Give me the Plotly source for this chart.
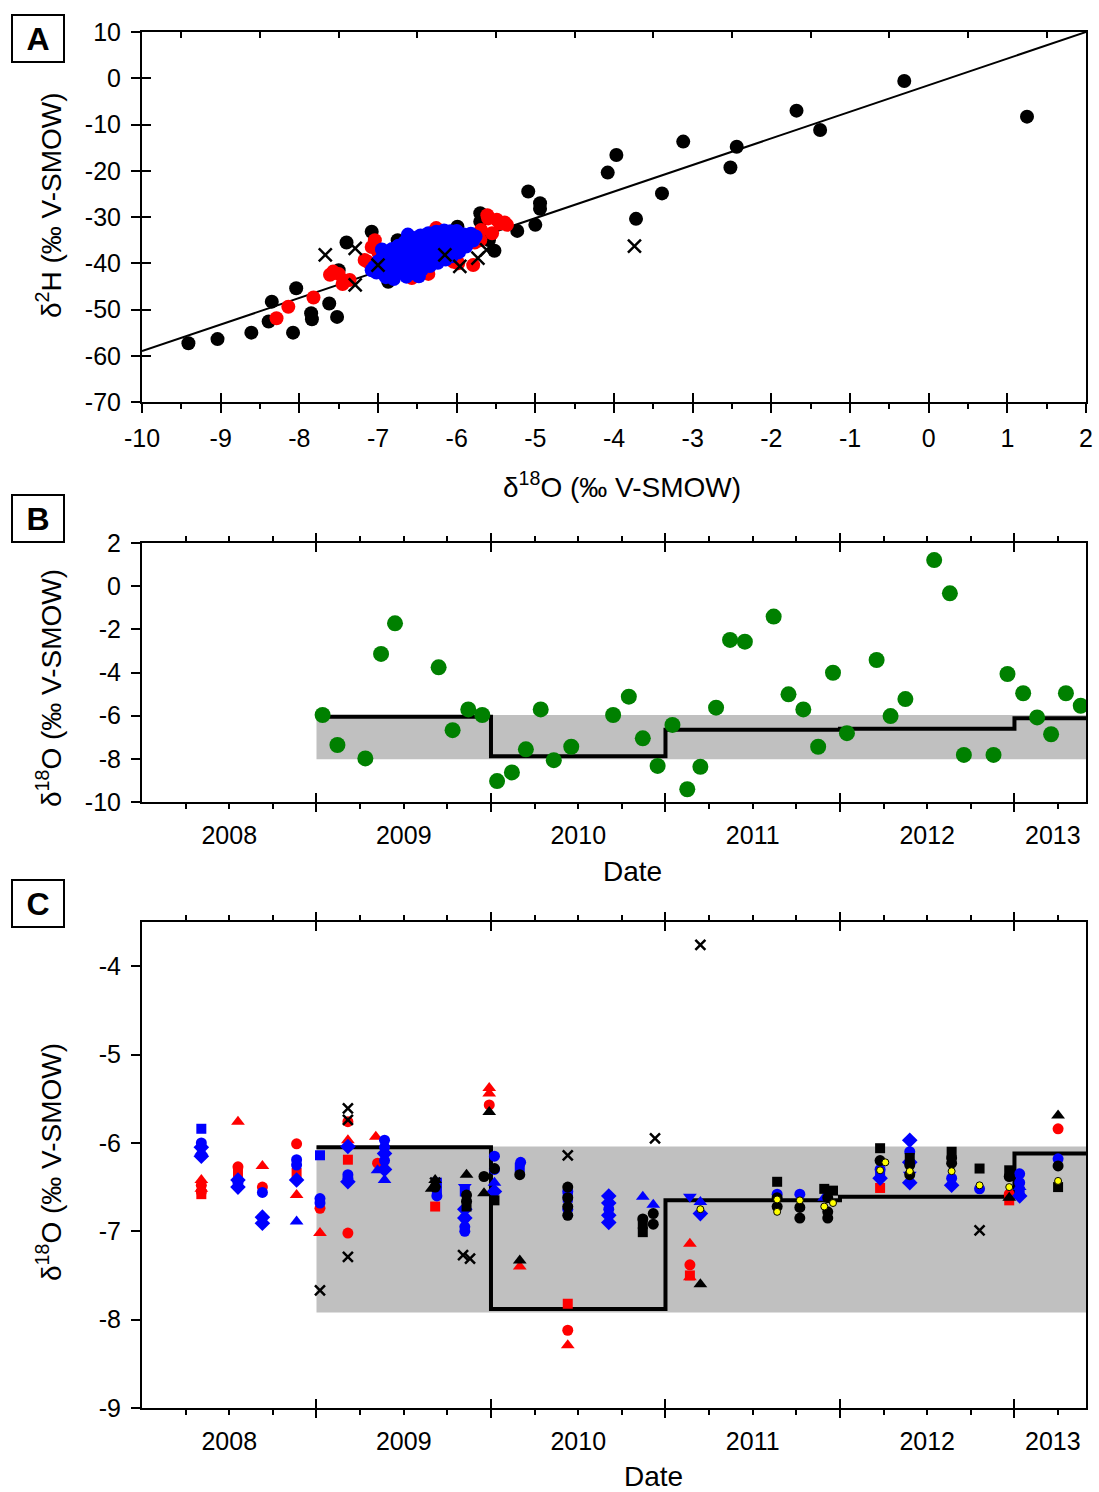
import plotly.graph_objects as go

# ---------------- Panel A data (d18O vs d2H) ----------------
a_black_x = [-9.41, -9.04, -8.61, -8.39, -8.35, -8.08, -8.04, -7.85, -7.84, -7.62, -7.52, -7.40, -7.08,
             -7.50, -6.87, -6.75, -5.99, -5.70, -5.70, -5.59, -5.52, -5.64, -5.23, -5.09, -4.94, -4.94, -5.00,
             -4.08, -3.97, -3.72, -3.39, -3.12, -2.52, -2.44, -1.68, -1.38, -0.31, 1.25]
a_black_y = [-57.3, -56.4, -55.0, -52.6, -48.3, -55.0, -45.4, -50.8, -52.1, -48.7, -51.6, -35.5, -33.2,
             -41.5, -44.0, -35.0, -32.1, -29.2, -31.0, -35.0, -37.3, -34.3, -33.0, -24.5, -27.0, -28.2, -31.7,
             -20.4, -16.6, -30.4, -24.9, -13.7, -19.3, -14.8, -7.0, -11.2, -0.6, -8.3]

a_red_x = [-8.29, -8.14, -7.82, -7.61, -7.57, -7.50, -7.45, -7.43, -7.36, -7.17, -7.13, -7.08, -7.04, -7.00,
           -6.64, -6.57, -6.36, -6.26, -6.16, -6.04, -6.00, -5.98, -5.79, -5.77, -5.70, -5.69, -5.61, -5.60,
           -5.55, -5.49, -5.45, -5.39, -5.36]
a_red_y = [-51.9, -49.4, -47.4, -42.5, -41.8, -42.3, -44.5, -43.8, -43.6, -39.3, -39.7, -36.5, -35.0, -37.5,
           -42.5, -43.2, -42.3, -32.4, -33.4, -39.7, -33.2, -40.0, -40.4, -35.5, -35.0, -32.8, -29.6, -30.3,
           -33.5, -30.6, -31.4, -31.2, -31.7]

a_blue_x = [-7.05, -7.02, -7.00, -6.98, -6.95, -6.93, -6.90, -6.88, -6.86, -6.84, -6.82, -6.80, -6.78, -6.76,
            -6.74, -6.72, -6.70, -6.68, -6.66, -6.64, -6.62, -6.60, -6.58, -6.56, -6.54, -6.52, -6.50, -6.48,
            -6.46, -6.44, -6.42, -6.40, -6.38, -6.36, -6.34, -6.32, -6.30, -6.28, -6.26, -6.24, -6.22, -6.20,
            -6.18, -6.16, -6.14, -6.12, -6.10, -6.08, -6.06, -6.04, -6.02, -6.00, -5.97, -5.94, -5.91, -5.88,
            -5.85, -5.82, -5.79, -5.76, -6.90, -6.80, -6.70, -6.60, -6.50, -6.40, -6.30, -6.20, -6.10, -6.00,
            -6.85, -6.75, -6.65, -6.55, -6.45, -6.35, -6.25, -6.15, -6.05, -5.95, -7.08, -6.95, -6.62, -6.48]
a_blue_y = [-40.8, -42.0, -39.6, -41.2, -38.9, -42.3, -40.1, -37.8, -41.6, -39.2, -36.9, -42.6, -40.3, -38.1,
            -36.2, -41.8, -39.5, -37.3, -35.4, -42.9, -40.7, -38.4, -36.1, -34.5, -42.2, -39.9, -37.6, -35.3,
            -34.0, -41.3, -38.8, -36.5, -34.4, -33.5, -40.6, -38.0, -35.8, -33.9, -33.2, -39.9, -37.4, -35.2,
            -33.6, -32.9, -39.2, -36.8, -34.6, -33.1, -38.5, -36.2, -34.1, -33.0, -37.6, -35.6, -33.8, -36.4,
            -34.6, -33.6, -35.1, -34.2, -43.0, -43.4, -41.0, -40.0, -41.0, -40.2, -39.8, -38.8, -37.8, -36.2,
            -38.2, -36.4, -39.8, -39.0, -35.6, -37.5, -36.8, -36.0, -35.8, -35.2, -41.5, -37.0, -33.8, -42.8]

a_cross_x = [-7.67, -7.29, -7.29, -7.00, -6.15, -5.96, -5.73, -5.62, -3.74]
a_cross_y = [-38.2, -36.8, -44.7, -40.4, -38.2, -40.7, -38.9, -37.1, -36.3]

lmwl_x = [-10, 2]
lmwl_y = [-59, 10]

# ---------------- Panel B data (precipitation d18O over time) ----------------
b_date = [2009.035, 2009.12, 2009.28, 2009.37, 2009.45, 2009.70, 2009.78, 2009.87, 2009.95, 2010.035,
          2010.12, 2010.20, 2010.285, 2010.36, 2010.46, 2010.70, 2010.79, 2010.87, 2010.955, 2011.04,
          2011.125, 2011.20, 2011.29, 2011.37, 2011.455, 2011.62, 2011.705, 2011.79, 2011.875, 2011.96,
          2012.04, 2012.21, 2012.29, 2012.375, 2012.54, 2012.63, 2012.71, 2012.88, 2012.96, 2013.05,
          2013.13, 2013.21, 2013.295, 2013.38]
b_d18o = [-5.97, -7.36, -7.98, -3.14, -1.72, -3.76, -6.67, -5.71, -5.97, -9.03,
          -8.63, -7.56, -5.71, -8.06, -7.44, -5.97, -5.12, -7.05, -8.33, -6.43,
          -9.41, -8.37, -5.63, -2.49, -2.57, -1.41, -5.01, -5.71, -7.44, -4.01,
          -6.81, -3.42, -6.02, -5.23, 1.21, -0.33, -7.82, -7.82, -4.07, -4.96,
          -6.08, -6.86, -4.96, -5.54]

step_x = [2009.0, 2010.0, 2011.0, 2012.0, 2013.0, 2013.41]
step_y = [-6.05, -7.88, -6.65, -6.61, -6.12, -6.12]
band_b = [-8.02, -5.97]
band_c = [-7.92, -6.04]
band_x = [2009.0, 2013.41]

# ---------------- Panel C data (spring d18O over time) ----------------
c_red_circle_x = [2008.34, 2008.34, 2008.55, 2008.69, 2008.886, 2009.02, 2009.18, 2009.18, 2009.35, 2009.99,
                  2010.44, 2011.14, 2012.97, 2013.25]
c_red_circle_y = [-6.48, -6.55, -6.27, -6.50, -6.01, -6.74, -5.76, -7.02, -6.23, -5.57,
                  -8.12, -7.38, -6.58, -5.84]
c_red_square_x = [2008.34, 2008.55, 2008.886, 2009.18, 2009.68, 2010.44, 2011.14, 2012.23, 2012.97]
c_red_square_y = [-6.58, -6.33, -6.34, -6.19, -6.72, -7.82, -7.50, -6.51, -6.65]
c_red_tri_x = [2008.34, 2008.34, 2008.55, 2008.69, 2008.886, 2009.02, 2009.18, 2009.34, 2009.99, 2009.99,
               2010.165, 2010.44, 2011.14, 2011.14]
c_red_tri_y = [-6.42, -6.52, -5.76, -6.26, -6.59, -7.02, -5.97, -5.93, -5.38, -5.44,
               -7.40, -8.29, -7.14, -7.52]

c_blue_circle_x = [2008.34, 2008.55, 2008.69, 2008.886, 2008.886, 2009.02, 2009.02, 2009.18, 2009.18, 2009.39,
                   2009.39, 2009.39, 2009.69, 2009.85, 2009.85, 2009.85, 2010.02, 2010.02, 2010.17, 2010.44,
                   2010.44, 2010.675, 2011.64, 2011.77, 2012.23, 2012.40, 2012.64, 2012.80, 2013.03, 2013.03,
                   2013.25]
c_blue_circle_y = [-6.00, -6.45, -6.56, -6.19, -6.25, -6.63, -6.68, -6.40, -6.36, -5.97,
                   -6.05, -6.20, -6.60, -6.85, -6.95, -7.00, -6.15, -6.30, -6.22, -6.55,
                   -6.75, -6.75, -6.58, -6.58, -6.30, -6.10, -6.40, -6.52, -6.35, -6.45,
                   -6.18]
c_blue_square_x = [2008.34, 2009.02, 2009.69, 2009.69, 2009.85, 2010.165, 2010.44, 2012.23, 2013.03]
c_blue_square_y = [-5.84, -6.14, -6.45, -6.55, -6.55, -6.28, -6.62, -6.35, -6.55]
c_blue_tri_x = [2008.34, 2008.886, 2009.35, 2009.39, 2010.02, 2010.87, 2010.93, 2011.20, 2011.91, 2013.03]
c_blue_tri_y = [-6.10, -6.89, -6.31, -6.42, -6.45, -6.61, -6.70, -6.67, -6.62, -6.50]
c_blue_diamond_x = [2008.34, 2008.34, 2008.55, 2008.55, 2008.69, 2008.69, 2008.886, 2009.18, 2009.18, 2009.39,
                    2009.39, 2009.85, 2009.85, 2010.02, 2010.675, 2010.675, 2010.675, 2010.675, 2011.20, 2012.23,
                    2012.40, 2012.40, 2012.40, 2012.64, 2013.03]
c_blue_diamond_y = [-6.05, -6.15, -6.42, -6.50, -6.84, -6.91, -6.42, -6.04, -6.44, -6.12,
                    -6.30, -6.75, -6.85, -6.55, -6.60, -6.68, -6.82, -6.90, -6.80, -6.40,
                    -5.97, -6.22, -6.45, -6.48, -6.60]
c_blue_tridown_x = [2011.14, 2009.85, 2012.40]
c_blue_tridown_y = [-6.61, -6.50, -6.36]

c_black_circle_x = [2009.68, 2009.96, 2010.02, 2010.165, 2010.44, 2010.44, 2010.44, 2010.44, 2010.87, 2010.93,
                    2010.93, 2011.64, 2011.64, 2011.77, 2011.77, 2011.93, 2011.93, 2011.93, 2012.23, 2012.40,
                    2012.40, 2012.64, 2012.64, 2012.97, 2013.25, 2009.86, 2009.86]
c_black_circle_y = [-6.50, -6.38, -6.29, -6.36, -6.50, -6.62, -6.72, -6.82, -6.86, -6.80,
                    -6.92, -6.62, -6.72, -6.73, -6.85, -6.62, -6.78, -6.85, -6.20, -6.25,
                    -6.36, -6.17, -6.23, -6.38, -6.26, -6.59, -6.66]
c_black_square_x = [2009.86, 2010.02, 2010.87, 2010.87, 2011.64, 2011.91, 2011.96, 2012.23, 2012.40, 2012.64,
                    2012.80, 2012.97, 2013.25]
c_black_square_y = [-6.72, -6.65, -7.01, -6.92, -6.44, -6.52, -6.54, -6.06, -6.17, -6.10,
                    -6.29, -6.31, -6.50]
c_black_tri_x = [2009.68, 2009.86, 2009.99, 2009.96, 2010.165, 2011.20, 2012.97, 2013.25, 2009.66]
c_black_tri_y = [-6.42, -6.36, -5.65, -6.57, -7.33, -7.60, -6.62, -5.69, -6.52]
c_black_x_x = [2009.02, 2009.18, 2009.18, 2009.18, 2009.68, 2009.84, 2009.88, 2010.44, 2010.94, 2011.20, 2012.80]
c_black_x_y = [-7.67, -5.61, -5.74, -7.29, -6.45, -7.27, -7.31, -6.14, -5.95, -3.76, -6.99]
c_yellow_x = [2011.20, 2011.64, 2011.64, 2011.77, 2011.91, 2011.96, 2012.23, 2012.26, 2012.40, 2012.64,
              2012.80, 2012.97, 2013.25]
c_yellow_y = [-6.75, -6.64, -6.78, -6.65, -6.72, -6.68, -6.31, -6.22, -6.32, -6.32,
              -6.48, -6.50, -6.43]

# ---------------- axis tick definitions ----------------
a_xticks = list(range(-10, 3))
a_xhalf = [v + 0.5 for v in range(-10, 2)]
a_yticks = list(range(-70, 11, 10))
year_edges = [2009, 2010, 2011, 2012, 2013]
year_quarters = [2008.25, 2008.5, 2008.75, 2009.25, 2009.5, 2009.75, 2010.25, 2010.5, 2010.75,
                 2011.25, 2011.5, 2011.75, 2012.25, 2012.5, 2012.75, 2013.25]
year_label_pos = [2008.5, 2009.5, 2010.5, 2011.5, 2012.5, 2013.22]
year_labels = ["2008", "2009", "2010", "2011", "2012", "2013"]
b_yticks = list(range(-10, 3, 2))
c_yticks = list(range(-9, -3))

def hyphen_labels(vals):
    return [str(v) for v in vals]

# ---------------- layout geometry ----------------
W, H = 1099, 1492
XD = [142 / W, 1086 / W]
def ydom(top_px, bot_px):
    return [1 - bot_px / H, 1 - top_px / H]
A_DOM = ydom(32, 402)
B_DOM = ydom(543, 802)
C_DOM = ydom(922, 1408)

FONT = "Arial, Liberation Sans, sans-serif"
TICKFONT = dict(family=FONT, size=25, color="black")
A_RANGE = [-10, 2]
T_RANGE = [2008.0, 2013.41]

fig = go.Figure()

# Panel A
fig.add_trace(go.Scatter(x=lmwl_x, y=lmwl_y, mode="lines", line=dict(color="black", width=2),
                         xaxis="x", yaxis="y", showlegend=False))
fig.add_trace(go.Scatter(x=a_black_x, y=a_black_y, mode="markers",
                         marker=dict(color="black", size=14), xaxis="x", yaxis="y", showlegend=False))
fig.add_trace(go.Scatter(x=a_red_x, y=a_red_y, mode="markers",
                         marker=dict(color="#FF0000", size=14), xaxis="x", yaxis="y", showlegend=False))
fig.add_trace(go.Scatter(x=a_blue_x, y=a_blue_y, mode="markers",
                         marker=dict(color="#0000FF", size=14), xaxis="x", yaxis="y", showlegend=False))
fig.add_trace(go.Scatter(x=a_cross_x, y=a_cross_y, mode="markers",
                         marker=dict(symbol="x-thin", size=13, line=dict(color="black", width=2.5)),
                         xaxis="x", yaxis="y", showlegend=False))

# Panel B
fig.add_trace(go.Scatter(x=[band_x[0], band_x[1], band_x[1], band_x[0]],
                         y=[band_b[0], band_b[0], band_b[1], band_b[1]],
                         mode="lines", fill="toself", fillcolor="#C0C0C0", line=dict(width=0),
                         xaxis="x2", yaxis="y2", showlegend=False))
fig.add_trace(go.Scatter(x=step_x, y=step_y, mode="lines", line=dict(color="black", width=4, shape="hv"),
                         xaxis="x2", yaxis="y2", showlegend=False))
fig.add_trace(go.Scatter(x=b_date, y=b_d18o, mode="markers", marker=dict(color="#008000", size=16),
                         xaxis="x2", yaxis="y2", showlegend=False))

# Panel C
fig.add_trace(go.Scatter(x=[band_x[0], band_x[1], band_x[1], band_x[0]],
                         y=[band_c[0], band_c[0], band_c[1], band_c[1]],
                         mode="lines", fill="toself", fillcolor="#C0C0C0", line=dict(width=0),
                         xaxis="x3", yaxis="y3", showlegend=False))
fig.add_trace(go.Scatter(x=step_x, y=step_y, mode="lines", line=dict(color="black", width=4, shape="hv"),
                         xaxis="x3", yaxis="y3", showlegend=False))

c_series = [
    (c_red_circle_x, c_red_circle_y, "circle", "#FF0000", 11),
    (c_red_square_x, c_red_square_y, "square", "#FF0000", 10),
    (c_red_tri_x, c_red_tri_y, "triangle-up", "#FF0000", 12),
    (c_blue_circle_x, c_blue_circle_y, "circle", "#0000FF", 11),
    (c_blue_square_x, c_blue_square_y, "square", "#0000FF", 10),
    (c_blue_tri_x, c_blue_tri_y, "triangle-up", "#0000FF", 12),
    (c_blue_diamond_x, c_blue_diamond_y, "diamond", "#0000FF", 12),
    (c_blue_tridown_x, c_blue_tridown_y, "triangle-down", "#0000FF", 12),
    (c_black_circle_x, c_black_circle_y, "circle", "black", 11),
    (c_black_square_x, c_black_square_y, "square", "black", 10),
    (c_black_tri_x, c_black_tri_y, "triangle-up", "black", 12),
]
for xs, ys, sym, col, sz in c_series:
    fig.add_trace(go.Scatter(x=xs, y=ys, mode="markers", marker=dict(symbol=sym, color=col, size=sz),
                             xaxis="x3", yaxis="y3", showlegend=False))
fig.add_trace(go.Scatter(x=c_black_x_x, y=c_black_x_y, mode="markers",
                         marker=dict(symbol="x-thin", size=10, line=dict(color="black", width=2.5)),
                         xaxis="x3", yaxis="y3", showlegend=False))
fig.add_trace(go.Scatter(x=c_yellow_x, y=c_yellow_y, mode="markers",
                         marker=dict(symbol="circle", color="#FFFF00", size=7, line=dict(color="black", width=1)),
                         xaxis="x3", yaxis="y3", showlegend=False))

# empty traces to make overlay (tick-only) axes exist
overlay_pairs = [("x4", "y"), ("x5", "y"), ("x", "y4"),
                 ("x6", "y2"), ("x7", "y2"), ("x8", "y2"), ("x9", "y2"),
                 ("x10", "y3"), ("x11", "y3"), ("x12", "y3"), ("x13", "y3")]
for xa, ya in overlay_pairs:
    fig.add_trace(go.Scatter(x=[], y=[], xaxis=xa, yaxis=ya, showlegend=False, hoverinfo="skip"))

BASE = dict(showgrid=False, zeroline=False, automargin=False)
LINE = dict(showline=True, linewidth=2, linecolor="black", mirror=True)

def tick_overlay(over, anchor, side, rng, vals, ticks, length, minor_vals=None, minor_len=6):
    d = dict(overlaying=over, anchor=anchor, side=side, range=rng, tickmode="array", tickvals=vals,
             ticks=ticks, ticklen=length, tickwidth=2, tickcolor="black", showticklabels=False,
             showline=False, **BASE)
    if minor_vals is not None:
        d["minor"] = dict(tickmode="array", tickvals=minor_vals, ticks=ticks, ticklen=minor_len,
                          tickwidth=1.5, tickcolor="black", showgrid=False)
    return d

layout = dict(
    width=W, height=H, margin=dict(l=0, r=0, t=0, b=0, autoexpand=False),
    paper_bgcolor="white", plot_bgcolor="white", showlegend=False,
    font=dict(family=FONT, color="black"),
    # Panel A
    xaxis=dict(domain=XD, anchor="y", range=A_RANGE, tickmode="array", tickvals=a_xticks,
               ticktext=hyphen_labels(a_xticks), ticklabelstandoff=4,
               ticks="outside", ticklen=9, tickwidth=2, tickcolor="black", tickfont=TICKFONT,
               minor=dict(tickmode="array", tickvals=a_xhalf, ticks="outside", ticklen=5, tickwidth=1.5,
                          tickcolor="black", showgrid=False),
               **LINE, **BASE),
    yaxis=dict(domain=A_DOM, anchor="x", range=[-70, 10], tickmode="array", tickvals=a_yticks,
               ticktext=hyphen_labels(a_yticks), ticklabelstandoff=5,
               ticks="outside", ticklen=9, tickwidth=2, tickcolor="black", tickfont=TICKFONT,
               **LINE, **BASE),
    xaxis4=tick_overlay("x", "y", "bottom", A_RANGE, a_xticks, "inside", 9),
    xaxis5=tick_overlay("x", "y", "top", A_RANGE, a_xhalf, "inside", 6),
    yaxis4=tick_overlay("y", "x", "left", [-70, 10], a_yticks, "inside", 9),
    # Panel B
    xaxis2=dict(domain=XD, anchor="y2", range=T_RANGE, tickmode="array", tickvals=year_label_pos,
                ticktext=year_labels, ticks="", ticklabelstandoff=10, tickfont=TICKFONT, **LINE, **BASE),
    yaxis2=dict(domain=B_DOM, anchor="x2", range=[-10, 2], tickmode="array", tickvals=b_yticks,
                ticktext=hyphen_labels(b_yticks), ticklabelstandoff=5,
                ticks="outside", ticklen=9, tickwidth=2, tickcolor="black", tickfont=TICKFONT,
                **LINE, **BASE),
    xaxis6=tick_overlay("x2", "y2", "bottom", T_RANGE, year_edges, "outside", 9, year_quarters),
    xaxis7=tick_overlay("x2", "y2", "bottom", T_RANGE, year_edges, "inside", 9),
    xaxis8=tick_overlay("x2", "y2", "top", T_RANGE, year_edges, "outside", 9, year_quarters),
    xaxis9=tick_overlay("x2", "y2", "top", T_RANGE, year_edges, "inside", 9),
    # Panel C
    xaxis3=dict(domain=XD, anchor="y3", range=T_RANGE, tickmode="array", tickvals=year_label_pos,
                ticktext=year_labels, ticks="", ticklabelstandoff=10, tickfont=TICKFONT, **LINE, **BASE),
    yaxis3=dict(domain=C_DOM, anchor="x3", range=[-9, -3.5], tickmode="array", tickvals=c_yticks,
                ticktext=hyphen_labels(c_yticks), ticklabelstandoff=5,
                ticks="outside", ticklen=9, tickwidth=2, tickcolor="black", tickfont=TICKFONT,
                **LINE, **BASE),
    xaxis10=tick_overlay("x3", "y3", "bottom", T_RANGE, year_edges, "outside", 9, year_quarters),
    xaxis11=tick_overlay("x3", "y3", "bottom", T_RANGE, year_edges, "inside", 9),
    xaxis12=tick_overlay("x3", "y3", "top", T_RANGE, year_edges, "outside", 9, year_quarters),
    xaxis13=tick_overlay("x3", "y3", "top", T_RANGE, year_edges, "inside", 9),
)
fig.update_layout(**layout)

TITLE_FONT = dict(family=FONT, size=28, color="black")
def px_x(p):
    return p / W
def px_y(p):
    return 1 - p / H

LETTER = dict(font=dict(family=FONT, size=32, color="black"), bordercolor="black", borderwidth=2,
              borderpad=2, width=46, height=41)
annotations = [
    # panel letters
    dict(text="<b>A</b>", x=px_x(38), y=px_y(38), **LETTER),
    dict(text="<b>B</b>", x=px_x(38), y=px_y(518), **LETTER),
    dict(text="<b>C</b>", x=px_x(38), y=px_y(903), **LETTER),
    # axis titles
    dict(text="δ<sup>2</sup>H (‰ V-SMOW)", x=px_x(49), y=px_y(205), textangle=-90, font=TITLE_FONT),
    dict(text="δ<sup>18</sup>O (‰ V-SMOW)", x=px_x(622), y=px_y(485), font=TITLE_FONT),
    dict(text="δ<sup>18</sup>O (‰ V-SMOW)", x=px_x(49), y=px_y(688), textangle=-90, font=TITLE_FONT),
    dict(text="Date", x=px_x(632), y=px_y(872), font=TITLE_FONT),
    dict(text="δ<sup>18</sup>O (‰ V-SMOW)", x=px_x(49), y=px_y(1162), textangle=-90, font=TITLE_FONT),
    dict(text="Date", x=px_x(654), y=px_y(1476), font=TITLE_FONT),
]
for a in annotations:
    a.update(xref="paper", yref="paper", showarrow=False, xanchor="center", yanchor="middle")
fig.update_layout(annotations=annotations)

fig.write_html("out.html")
